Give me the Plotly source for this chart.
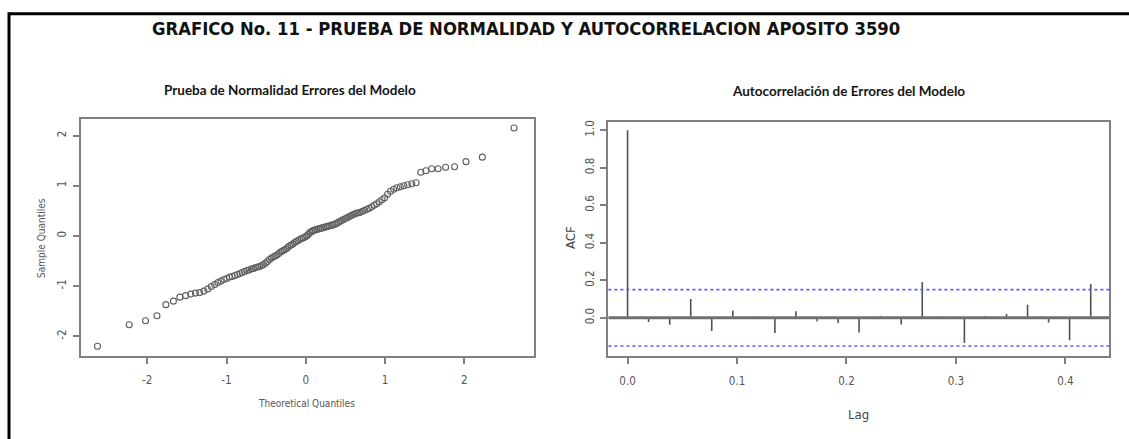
import plotly.graph_objects as go

W, H = 1129, 439

# ---------------- data ----------------
theoretical_q = [-2.628, -2.228, -2.022, -1.878, -1.765, -1.670, -1.589, -1.516, -1.451, -1.392,
                 -1.338, -1.286, -1.238, -1.193, -1.150, -1.109, -1.070, -1.032, -0.996, -0.962,
                 -0.928, -0.895, -0.863, -0.832, -0.802, -0.773, -0.744, -0.716, -0.688, -0.661,
                 -0.634, -0.608, -0.582, -0.557, -0.532, -0.507, -0.483, -0.458, -0.434, -0.411,
                 -0.388, -0.364, -0.341, -0.319, -0.296, -0.274, -0.251, -0.229, -0.207, -0.185,
                 -0.163, -0.141, -0.119, -0.098, -0.076, -0.054, -0.032, -0.011,
                 0.011, 0.032, 0.054, 0.076, 0.098, 0.119, 0.141, 0.163, 0.185, 0.207,
                 0.229, 0.251, 0.274, 0.296, 0.319, 0.341, 0.364, 0.388, 0.411, 0.434,
                 0.458, 0.483, 0.507, 0.532, 0.557, 0.582, 0.608, 0.634, 0.661, 0.688,
                 0.716, 0.744, 0.773, 0.802, 0.832, 0.863, 0.895, 0.928, 0.962, 0.996,
                 1.032, 1.070, 1.109, 1.150, 1.193, 1.238, 1.286, 1.338, 1.392, 1.451,
                 1.516, 1.589, 1.670, 1.765, 1.878, 2.022, 2.228, 2.628]

sample_q = [-2.20, -1.77, -1.69, -1.59, -1.37, -1.30, -1.22, -1.19, -1.16, -1.14,
            -1.13, -1.10, -1.06, -1.01, -0.97, -0.93, -0.90, -0.87, -0.85, -0.82,
            -0.81, -0.79, -0.77, -0.75, -0.73, -0.71, -0.69, -0.68, -0.66, -0.65,
            -0.63, -0.62, -0.61, -0.59, -0.57, -0.54, -0.51, -0.47, -0.44, -0.42,
            -0.40, -0.38, -0.35, -0.32, -0.30, -0.28, -0.26, -0.23, -0.20, -0.18,
            -0.16, -0.13, -0.11, -0.09, -0.07, -0.05, -0.04, -0.02,
            0.00, 0.03, 0.07, 0.09, 0.11, 0.12, 0.13, 0.14, 0.15, 0.16,
            0.17, 0.18, 0.19, 0.20, 0.21, 0.22, 0.23, 0.25, 0.27, 0.29,
            0.31, 0.33, 0.35, 0.37, 0.39, 0.41, 0.43, 0.45, 0.46, 0.47,
            0.49, 0.51, 0.53, 0.55, 0.58, 0.61, 0.64, 0.68, 0.72, 0.76,
            0.83, 0.89, 0.93, 0.96, 0.98, 1.00, 1.02, 1.04, 1.06, 1.27,
            1.30, 1.34, 1.34, 1.37, 1.38, 1.48, 1.57, 2.15]

lags = [0.0, 0.0192, 0.0385, 0.0577, 0.0769, 0.0962, 0.1154, 0.1346, 0.1538, 0.1731,
        0.1923, 0.2115, 0.2308, 0.25, 0.2692, 0.2885, 0.3077, 0.3269, 0.3462, 0.3654,
        0.3846, 0.4038, 0.4231]
acf_vals = [1.0, -0.023, -0.037, 0.10, -0.07, 0.039, 0.007, -0.081, 0.035, -0.019,
            -0.028, -0.078, 0.01, -0.035, 0.19, 0.007, -0.134, 0.01, 0.02, 0.07,
            -0.025, -0.12, 0.18]
conf_limit = 0.15

qq_xticks = [-2, -1, 0, 1, 2]
qq_xticklabels = ["-2", "-1", "0", "1", "2"]
qq_yticks = [-2, -1, 0, 1, 2]
qq_yticklabels = ["-2", "-1", "0", "1", "2"]
acf_xticks = [0.0, 0.1, 0.2, 0.3, 0.4]
acf_xticklabels = ["0.0", "0.1", "0.2", "0.3", "0.4"]
acf_yticks = [0.0, 0.2, 0.4, 0.6, 0.8, 1.0]
acf_yticklabels = ["0.0", "0.2", "0.4", "0.6", "0.8", "1.0"]

main_title = "GRAFICO No. 11 - PRUEBA DE NORMALIDAD Y AUTOCORRELACION APOSITO 3590"
left_title = "Prueba de Normalidad Errores del Modelo"
right_title = "Autocorrelación de Errores del Modelo"

# ---------------- figure ----------------
NARROW = "Liberation Sans Narrow, Arial Narrow, DejaVu Sans Condensed, Roboto Condensed, sans-serif"
px = lambda x: x / W
py = lambda y: 1 - y / H

fig = go.Figure()

fig.add_trace(go.Scatter(
    x=theoretical_q, y=sample_q, mode="markers",
    marker=dict(symbol="circle-open", size=6, color="#606060", line=dict(width=1.1, color="#606060")),
    xaxis="x", yaxis="y", showlegend=False, hoverinfo="skip"))

# ACF vertical lines
bx, by = [], []
for lx, v in zip(lags, acf_vals):
    bx += [lx, lx, None]
    by += [0, v, None]
fig.add_trace(go.Scatter(x=bx, y=by, mode="lines", line=dict(color="#505050", width=1.6),
                         xaxis="x2", yaxis="y2", showlegend=False, hoverinfo="skip"))

axis_common = dict(showgrid=False, zeroline=False, showline=True, mirror=True,
                   linecolor="#808080", linewidth=2, ticks="outside", ticklen=6,
                   tickwidth=1.5, tickcolor="#808080",
                   tickfont=dict(family=NARROW, size=11.5, color="#555555"))

fig.update_layout(
    width=W, height=H, margin=dict(l=0, r=0, t=0, b=0),
    paper_bgcolor="white", plot_bgcolor="white",
    xaxis=dict(domain=[px(80.7), px(534)], range=[-2.84, 2.88], tickvals=qq_xticks,
               ticktext=qq_xticklabels, anchor="y", ticklabelstandoff=7, **axis_common),
    yaxis=dict(domain=[py(355.3), py(117.3)], range=[-2.387, 2.335], tickvals=qq_yticks,
               ticktext=qq_yticklabels, anchor="x", tickangle=-90, ticklabelstandoff=2,
               **axis_common),
    xaxis2=dict(domain=[px(608.4), px(1109)], range=[-0.0175, 0.4398], tickvals=acf_xticks,
                ticktext=acf_xticklabels, anchor="y2", ticklabelstandoff=7, **axis_common),
    yaxis2=dict(domain=[py(355.7), py(120.7)], range=[-0.204, 1.0426], tickvals=acf_yticks,
                ticktext=acf_yticklabels, anchor="x2", tickangle=-90, ticklabelstandoff=2,
                **axis_common),
)

# zero line and confidence limits
fig.add_shape(type="line", xref="x2 domain", yref="y2", x0=0, x1=1, y0=0, y1=0,
              line=dict(color="#707070", width=3))
for c in (conf_limit, -conf_limit):
    fig.add_shape(type="line", xref="x2 domain", yref="y2", x0=0, x1=1, y0=c, y1=c,
                  line=dict(color="#5a5aff", width=1.6, dash="dot"))

# outer frame
fig.add_shape(type="path", xref="paper", yref="paper",
              path=f"M {px(9)} 0 L {px(9)} {py(11.7)} L 1.01 {py(11.7)}",
              line=dict(color="black", width=3))

ann = [
    dict(text=f"<b>{main_title}</b>", x=px(526), y=py(26.5), font=dict(family=NARROW, size=18.3, color="#111111")),
    dict(text=f"<b>{left_title}</b>", x=px(290), y=py(88), font=dict(family="Lato, sans-serif", size=13.5, color="#151515")),
    dict(text=f"<b>{right_title}</b>", x=px(848), y=py(89), font=dict(family="Lato, sans-serif", size=13.5, color="#151515")),
    dict(text="Sample Quantiles", x=px(42), y=py(237), textangle=-90, font=dict(family=NARROW, size=10, color="#555555")),
    dict(text="Theoretical Quantiles", x=px(306), y=py(403), font=dict(family=NARROW, size=10, color="#555555")),
    dict(text="ACF", x=px(571), y=py(237), textangle=-90, font=dict(family=NARROW, size=13, color="#444444")),
    dict(text="Lag", x=px(858), y=py(414), font=dict(family=NARROW, size=13, color="#444444")),
]
for a in ann:
    fig.add_annotation(xref="paper", yref="paper", showarrow=False, xanchor="center", yanchor="middle", **a)

fig.write_html("out.html")
